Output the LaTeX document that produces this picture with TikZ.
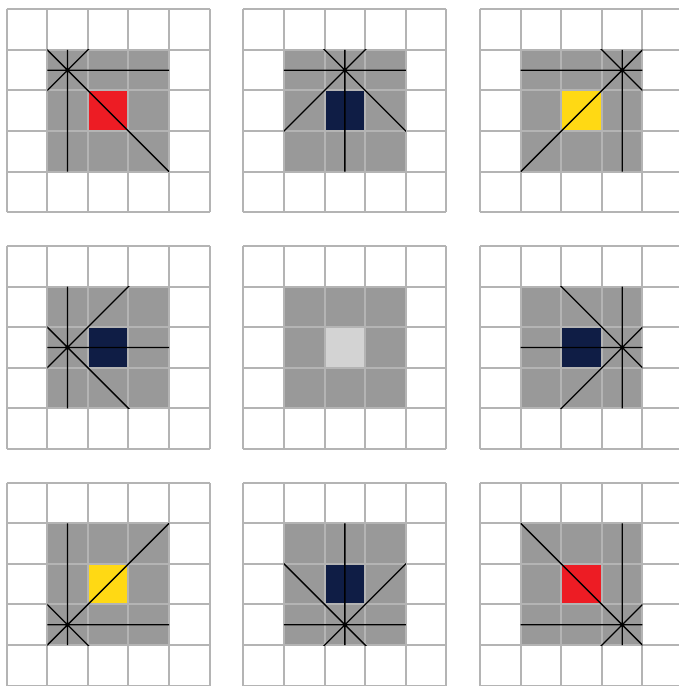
\documentclass[tikz,border=0pt]{standalone}
\definecolor{gridc}{RGB}{180,180,180}
\definecolor{fillc}{RGB}{153,153,153}
\definecolor{redc}{RGB}{237,28,36}
\definecolor{yelc}{RGB}{255,217,20}
\definecolor{navyc}{RGB}{15,29,69}
\definecolor{ltc}{RGB}{211,211,211}
\tikzset{gridline/.style={draw=gridc, line width=1.4pt}, starline/.style={draw=black, line width=0.9pt}}
\begin{document}
\begin{tikzpicture}[y=-1cm]
\useasboundingbox (-0.165,-0.229) rectangle (16.535,16.668);
\foreach \i/\j/\c/\sx/\sy in {0/0/redc/1.5/1.5, 1/0/navyc/2.5/1.5, 2/0/yelc/3.5/1.5, 0/1/navyc/1.5/2.5, 1/1/ltc/-1/-1, 2/1/navyc/3.5/2.5, 0/2/yelc/1.5/3.5, 1/2/navyc/2.5/3.5, 2/2/redc/3.5/3.5}{
  \begin{scope}[shift={(\i*5.83,\j*5.83)}]
    \fill[fillc] (1,1) rectangle (4,4);
    \fill[\c] (2,2) rectangle (3,3);
    \draw[gridline] (0,0) grid (5,5);
    \ifdim \sx pt>0pt
      \begin{scope}
        \clip (1,1) rectangle (4,4);
        \draw[starline] (\sx,1) -- (\sx,4) (1,\sy) -- (4,\sy)
          ({\sx-4},{\sy-4}) -- ({\sx+4},{\sy+4})
          ({\sx-4},{\sy+4}) -- ({\sx+4},{\sy-4});
      \end{scope}
    \fi
  \end{scope}
}
\end{tikzpicture}
\end{document}
